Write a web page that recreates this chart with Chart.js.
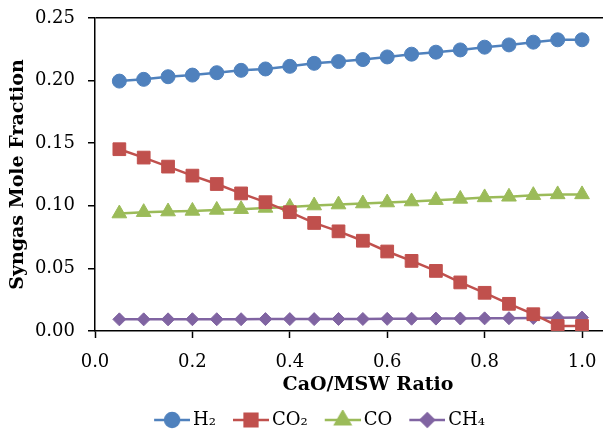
<!DOCTYPE html>
<html>
<head>
<meta charset="utf-8">
<script src="https://cdn.jsdelivr.net/npm/chart.js@4/dist/chart.umd.min.js"></script>
<style>
  html, body { margin: 0; padding: 0; background: #fff; overflow: hidden; }
  /* the source figure is cropped at the right and bottom: draw it larger and clip */
  #outer { width: 603px; height: 430px; overflow: hidden; position: relative; }
  #wrap { width: 641px; height: 439px; position: relative; }
</style>
</head>
<body>
<div id="outer"><div id="wrap"><canvas id="c"></canvas></div></div>
<script>
// --- data ---
const ratios = [0.05, 0.10, 0.15, 0.20, 0.25, 0.30, 0.35, 0.40, 0.45, 0.50,
                0.55, 0.60, 0.65, 0.70, 0.75, 0.80, 0.85, 0.90, 0.95, 1.00];
const h2  = [0.1996, 0.2010, 0.2031, 0.2044, 0.2063, 0.2082, 0.2093, 0.2114, 0.2138, 0.2152,
             0.2168, 0.2189, 0.2211, 0.2227, 0.2245, 0.2267, 0.2285, 0.2307, 0.2326, 0.2326];
const co2 = [0.1452, 0.1385, 0.1313, 0.1241, 0.1174, 0.1099, 0.1029, 0.0949, 0.0863, 0.0796,
             0.0721, 0.0635, 0.0560, 0.0480, 0.0388, 0.0305, 0.0217, 0.0134, 0.0040, 0.0040];
const co  = [0.0938, 0.0949, 0.0954, 0.0959, 0.0967, 0.0973, 0.0983, 0.0991, 0.1002, 0.1010,
             0.1018, 0.1026, 0.1034, 0.1045, 0.1055, 0.1067, 0.1072, 0.1085, 0.1091, 0.1091];
const ch4 = [0.0093, 0.0093, 0.0093, 0.0094, 0.0094, 0.0094, 0.0095, 0.0095, 0.0095, 0.0096,
             0.0096, 0.0097, 0.0098, 0.0099, 0.0100, 0.0101, 0.0102, 0.0104, 0.0106, 0.0107];
const yTicks = [0, 0.05, 0.10, 0.15, 0.20, 0.25];
const xTicks = [0, 0.2, 0.4, 0.6, 0.8, 1.0];

const COLORS = {
    blue: '#4f81bd',
    red: '#c0504d',
    green: '#9bbb59',
    purple: '#8064a2'
};
const FONT = "'DejaVu Serif', 'Liberation Serif', serif";

const seriesDefs = [
    { label: 'H₂',  data: h2,  color: COLORS.blue,   style: 'circle',   radius: 7 },
    { label: 'CO₂', data: co2, color: COLORS.red,    style: 'rect',     radius: 9 },
    { label: 'CO',  data: co,  color: COLORS.green,  style: 'triangle', radius: 8.5 },
    { label: 'CH₄', data: ch4, color: COLORS.purple, style: 'rectRot',  radius: 6.5 }
];

// legend swatch: short line with the marker on it.
// sits in the right part of the canvas so the label follows it closely
function legendSwatch(def) {
    const cv = document.createElement('canvas');
    cv.width = 40; cv.height = 20;
    const g = cv.getContext('2d');
    g.strokeStyle = def.color;
    g.lineWidth = 2.5;
    g.beginPath(); g.moveTo(4, 10); g.lineTo(40, 10); g.stroke();
    g.fillStyle = def.color;
    g.strokeStyle = def.color;
    Chart.helpers.drawPoint(g, { pointStyle: def.style, radius: def.radius, rotation: 0, borderWidth: 1 }, 22, 10);
    return cv;
}

const datasets = seriesDefs.map(d => ({
    label: d.label,
    data: ratios.map((x, i) => ({ x, y: d.data[i] })),
    borderColor: d.color,
    backgroundColor: d.color,
    borderWidth: 2.5,
    pointStyle: d.style,
    pointRadius: d.radius,
    pointBorderWidth: 1,
    pointBorderColor: d.color,
    pointBackgroundColor: d.color,
    tension: 0,
    swatch: legendSwatch(d)
}));

new Chart(document.getElementById('c'), {
    type: 'line',
    data: { datasets },
    options: {
        responsive: true,
        maintainAspectRatio: false,
        animation: false,
        layout: { autoPadding: false, padding: { top: 18, right: 0, left: 0, bottom: 0 } },
        plugins: {
            tooltip: { enabled: false },
            legend: {
                position: 'bottom',
                labels: {
                    color: '#000',
                    font: { family: FONT, size: 18 },
                    usePointStyle: true,
                    pointStyleWidth: 28,
                    padding: 19,
                    generateLabels: chart => chart.data.datasets.map((ds, i) => ({
                        text: ds.label,
                        fontColor: '#000',
                        pointStyle: ds.swatch,
                        datasetIndex: i,
                        lineWidth: 0,
                        strokeStyle: 'transparent',
                        fillStyle: 'transparent'
                    }))
                }
            }
        },
        scales: {
            x: {
                type: 'linear',
                min: 0,
                max: 1.1211,
                afterBuildTicks: s => { s.ticks = xTicks.map(v => ({ value: v })); },
                afterFit: s => { s.height = 61; s.paddingLeft = 0; s.paddingRight = 0; },
                ticks: {
                    color: '#000',
                    font: { family: FONT, size: 18 },
                    padding: 14,
                    maxRotation: 0,
                    callback: v => v.toFixed(1)
                },
                grid: { drawOnChartArea: false, tickLength: 7, tickColor: '#000', tickWidth: 1.5 },
                border: { color: '#000', width: 1.5 },
                title: {
                    display: true,
                    text: 'CaO/MSW Ratio',
                    color: '#000',
                    font: { family: FONT, size: 19, weight: 'bold' },
                    padding: { top: 0, bottom: -4.4 }
                }
            },
            y: {
                type: 'linear',
                min: 0,
                max: 0.25,
                afterBuildTicks: s => { s.ticks = yTicks.map(v => ({ value: v })); },
                afterFit: s => { s.width = 95; s.paddingTop = 0; s.paddingBottom = 0; },
                ticks: {
                    color: '#000',
                    font: { family: FONT, size: 18 },
                    padding: 13,
                    callback: v => v.toFixed(2)
                },
                grid: {
                    color: c => (c.tick && c.tick.value === 0.25) ? '#000' : 'transparent',
                    lineWidth: 1.5,
                    tickLength: 7,
                    tickColor: '#000',
                    tickWidth: 1.5
                },
                border: { color: '#000', width: 1.5 },
                title: {
                    display: true,
                    text: 'Syngas Mole Fraction',
                    color: '#000',
                    font: { family: FONT, size: 19, weight: 'bold' },
                    padding: { top: 7, bottom: 0 }
                }
            }
        }
    }
});
</script>
</body>
</html>
